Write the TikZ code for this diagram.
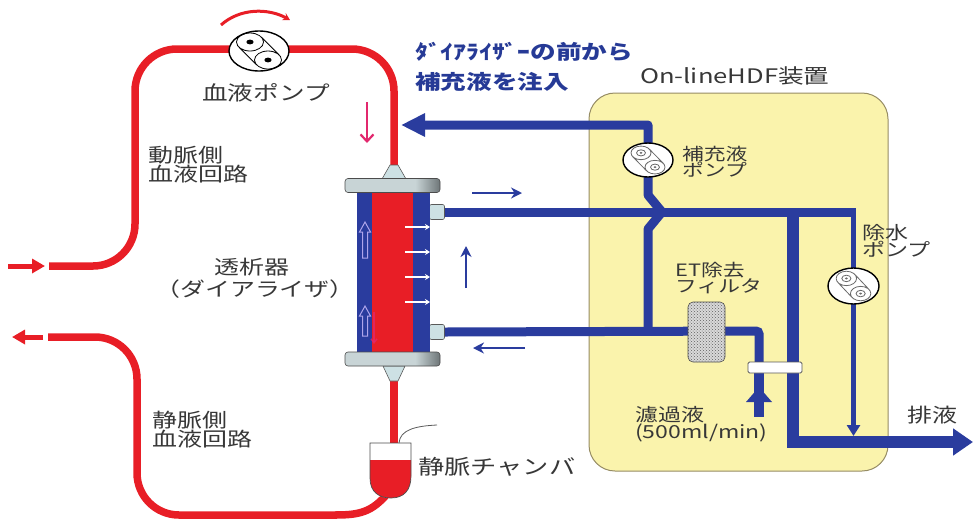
\documentclass[tikz,border=0pt]{standalone}
\usepackage{fontspec}
\usetikzlibrary{arrows.meta,shapes.geometric,patterns}
\newfontfamily\jp[FakeStretch=1.28]{Noto Sans CJK JP}

\definecolor{bloodred}{RGB}{232,30,38}
\definecolor{pipeblue}{RGB}{42,60,158}
\definecolor{headblue}{RGB}{38,58,150}
\definecolor{boxfill}{RGB}{250,243,172}
\definecolor{boxedge}{RGB}{150,140,100}
\definecolor{txt}{RGB}{55,55,55}
\definecolor{portfill}{RGB}{205,225,228}
\definecolor{platelight}{RGB}{200,212,214}
\definecolor{platedark}{RGB}{110,118,120}
\definecolor{flowpink}{RGB}{226,40,110}
\definecolor{hollow}{RGB}{175,165,235}
\definecolor{rotorgray}{RGB}{105,105,105}

\pgfdeclarehorizontalshading{plateshade}{100bp}{color(0bp)=(platelight); color(25bp)=(platelight); color(62bp)=(platelight); color(75bp)=(platedark); color(100bp)=(platedark)}

\tikzset{
  blood/.style={draw=bloodred, line width=7.5pt},
  pipe/.style={draw=pipeblue, line width=9pt},
  lbl/.style 2 args={text=txt, inner sep=0pt, align=left, font=\jp\fontsize{#1}{#2}\selectfont},
  pumpbody/.style={ellipse, draw=black, line width=1.4pt, fill=white, inner sep=0pt},
  port/.style={rectangle, draw=gray!70!black, line width=0.6pt, fill=portfill,
    rounded corners=2pt, minimum width=15pt, minimum height=15pt, inner sep=0pt},
  plate/.style={rectangle, draw=gray!60!black, line width=0.6pt, rounded corners=3pt,
    shade, shading=plateshade, minimum width=95pt, minimum height=14pt, inner sep=0pt},
  flowarrow/.style={pipeblue, line width=2.8pt, -{Stealth[length=11pt,width=11pt]}},
  innerarrow/.style={white, line width=1.8pt, -{Stealth[length=5pt,width=6pt]}},
  hollowarrow/.style={draw=hollow, line width=1pt},
  % roller rotor of the blood pump: two rollers with black hubs
  bloodrotor/.pic={
    \draw[black, line width=0.8pt] (-0.3,-0.45) circle[radius=0.45]
      (0.3,0.45) circle[radius=0.45]
      (-0.674,-0.2) -- (-0.074,0.7)
      (0.074,-0.7) -- (0.674,0.2);
    \fill[black] (-0.3,-0.45) circle[radius=0.12] (0.3,0.45) circle[radius=0.12];
  },
  % roller rotor of the fluid pumps: rollers with ringed hubs
  fluidrotor/.pic={
    \draw[rotorgray, line width=0.8pt] (-0.28,-0.42) circle[radius=0.4]
      (0.28,0.42) circle[radius=0.4]
      (-0.613,-0.198) -- (-0.053,0.642)
      (0.053,-0.642) -- (0.613,0.198)
      (-0.28,-0.42) circle[radius=0.18]
      (0.28,0.42) circle[radius=0.18];
    \fill[rotorgray] (-0.28,-0.42) circle[radius=0.06] (0.28,0.42) circle[radius=0.06];
  }
}

\begin{document}
\begin{tikzpicture}[x=1pt,y=-1pt]
\useasboundingbox (0,0) rectangle (974,523);

% ---------- On-line HDF unit ----------
\node[draw=boxedge, fill=boxfill, line width=1pt, rounded corners=26pt,
      minimum width=299pt, minimum height=378pt, inner sep=0pt] (hdf) at (738.5,282) {};
\node[lbl={20}{20}, anchor=west] (hdftitle) at (640,76) {On-lineHDF装置};

% ---------- dialyzer ports (needed as pipe ends) ----------
\node[port] (pa) at (437,212) {};
\node[port] (pb) at (437,332) {};

% ---------- dialysate / substitution pipes ----------
% dialysate out of the top port, over to the drain branch and UF pump
\draw[pipe] (pa.east) -- (856,212);
\draw[pipeblue, line width=12pt, -{Triangle[length=20pt,width=26pt]}]
  (793,212) -- (793,442) -- (973,442);
\draw[pipeblue, line width=5.5pt, -{Triangle[length=11pt,width=13pt]}]
  (853.5,210) -- (853.5,436);
% fresh dialysate from the ET filter into the bottom port
\draw[pipe, rounded corners=3pt] (pb.east) -- (759,331) -- (759,366);
\draw[pipeblue, line width=10pt] (759,372) -- (759,417);
\fill[pipeblue] (759,387) -- (772,402) -- (746,402) -- cycle;
% substitution line: up through the pump, hopping over the dialysate line
\draw[pipe, line join=round, -{Triangle[length=24pt,width=22pt]}]
  (648,331) -- (648,229) -- (662,212) -- (648,195) -- (648,125) -- (401,125);

% white coupling bar and ET filter
\node[draw=gray!70!black, fill=white, line width=0.8pt, rounded corners=1.5pt,
      minimum width=54pt, minimum height=11pt, inner sep=0pt] (bar) at (775,367.5) {};
\node[draw=gray!60!black, fill=gray!30, rounded corners=5pt, line width=0.6pt,
      minimum width=37pt, minimum height=60pt, inner sep=0pt,
      postaction={pattern=crosshatch dots, pattern color=gray!75!black}] (etf) at (706.5,332) {};

% pumps in the HDF unit
\node[pumpbody, minimum width=50pt, minimum height=34pt] (sp) at (648,160) {};
\pic[xscale=25, yscale=17] at (sp.center) {fluidrotor};
\node[pumpbody, minimum width=51pt, minimum height=36pt] (up) at (853.5,286) {};
\pic[xscale=25.5, yscale=18] at (up.center) {fluidrotor};

% ---------- blood circuit ----------
\draw[bloodred, line width=5pt, -{Triangle[length=13pt,width=14pt]}] (8,266) -- (45,266);
\draw[blood, rounded corners=42pt] (49,266) -- (135,266) -- (135,49) -- (394,49) -- (394,168);
\draw[bloodred, line width=3pt, -{Stealth[length=7pt,width=8pt]}]
  (221,25) .. controls (240,8) and (268,8) .. (290,20);
\node[pumpbody, minimum width=60pt, minimum height=40pt] (bp) at (259,51) {};
\pic[xscale=30, yscale=20] at (bp.center) {bloodrotor};

\draw[blood] (394,376) -- (394,446);
\def\chamberpath{(370,443) -- (370,478) .. controls (370,492) and (379,498) .. (391,498)
  .. controls (404,498) and (411,490) .. (411,476) -- (411,443) -- cycle}
\draw[blood] (388,493) .. controls (372,512) and (360,515) .. (335,515);
\draw[blood, rounded corners=42pt] (337,515) -- (137,515) -- (137,337) -- (48,337);
\draw[bloodred, line width=5pt, -{Triangle[length=13pt,width=14pt]}] (43,337) -- (12,337);
\fill[white] \chamberpath;
\begin{scope}
  \clip \chamberpath;
  \fill[bloodred] (360,460) rectangle (420,505);
\end{scope}
\draw[gray!60!black, line width=0.7pt] \chamberpath;
\coordinate (chtop) at (399,443);
\coordinate (monitor) at (437,425);
\draw[gray!70!black, line width=0.8pt] (chtop) .. controls (400,430) and (415,426) .. (monitor);

% ---------- dialyzer ----------
\fill[pipeblue] (357,192) rectangle (430,352);
\fill[bloodred] (372,192) rectangle (413,352);
\filldraw[fill=portfill, draw=gray!70!black, line width=0.6pt]
  (390,165) -- (398,165) -- (406,179) -- (382,179) -- cycle;
\filldraw[fill=portfill, draw=gray!70!black, line width=0.6pt]
  (383,366) -- (405,366) -- (398,381) -- (390,381) -- cycle;
\node[plate] (capT) at (392.5,185.5) {};
\node[plate] (capB) at (392.5,359) {};
\foreach \yy in {227,252,277,302} \draw[innerarrow] (405,\yy) -- (430,\yy);
\draw[hollowarrow] (362.5,258) -- (362.5,232) -- (359.5,232) -- (365,222) -- (370.5,232) -- (367.5,232) -- (367.5,258) -- cycle;
\draw[hollowarrow] (362.5,336) -- (362.5,316) -- (359.5,316) -- (365,306) -- (370.5,316) -- (367.5,316) -- (367.5,336) -- cycle;
\draw[flowpink, opacity=0.75, line width=1.4pt, -{Straight Barb[length=4pt,width=6pt]}] (374,312) -- (374,344);

% flow direction arrows
\draw[flowpink, line width=2.2pt, -{Straight Barb[length=7pt,width=13pt]}] (367,102) -- (367,143);
\draw[flowarrow] (472,193) -- (522,193);
\draw[flowarrow] (466,288) -- (466,246);
\draw[flowarrow] (525,348) -- (473,348);

% ---------- labels ----------
\node[lbl={20}{20}] (lbp) at (266,93) {血液ポンプ};
\node[lbl={19.5}{18}, anchor=north west] (lart) at (148,146) {動脈側\\血液回路};
\node[lbl={19.5}{19}] (ldz1) at (252,267) {透析器};
\node[lbl={19.5}{19}] (ldz2) at (255,289) {（ダイアライザ）};
\node[lbl={19.5}{18}, anchor=north west] (lven) at (152,411) {静脈側\\血液回路};
\node[lbl={20.5}{20}, anchor=west] (lch) at (418,467) {静脈チャンバ};
\node[lbl={17}{16}, anchor=north west] (lsp) at (682,146) {補充液\\ポンプ};
\node[lbl={17}{16}, anchor=north west] (letf) at (675,262) {ET除去\\フィルタ};
\node[lbl={18}{17}, anchor=north west] (lup) at (862,224) {除水\\ポンプ};
\node[lbl={18}{15}, anchor=north west] (lfil) at (635,406) {濾過液\\(500ml/min)};
\node[lbl={19.5}{19}, anchor=west] (ldr) at (907,415) {排液};
\node[text=headblue, inner sep=0pt, anchor=west,
      font=\jp\bfseries\fontsize{20}{20}\selectfont] (hd1) at (415,52) {ﾀﾞｲｱﾗｲｻﾞｰの前から};
\node[text=headblue, inner sep=0pt, anchor=west,
      font=\jp\bfseries\fontsize{20}{20}\selectfont] (hd2) at (415,82) {補充液を注入};
\end{tikzpicture}
\end{document}
